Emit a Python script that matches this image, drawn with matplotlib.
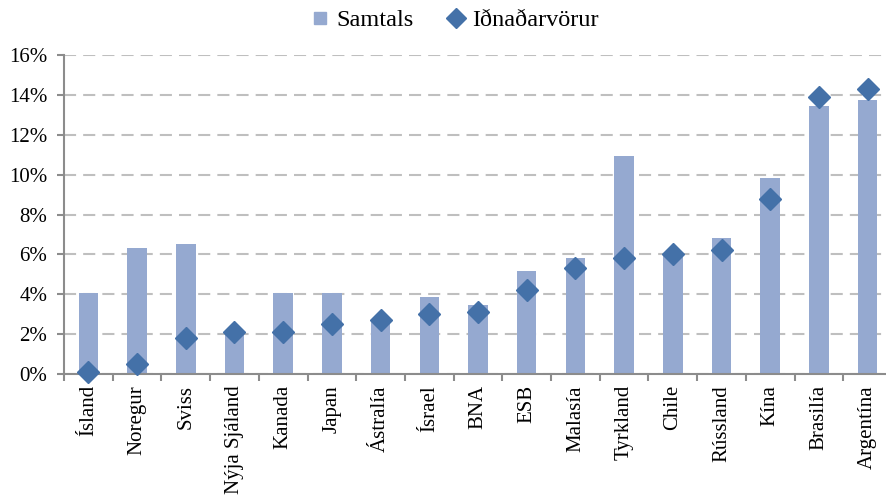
import matplotlib
matplotlib.use("Agg")
import matplotlib.pyplot as plt
from matplotlib.ticker import FuncFormatter
from matplotlib.lines import Line2D
import numpy as np

plt.rcParams['font.family'] = ['Liberation Serif', 'DejaVu Serif']

countries = ["Ísland", "Noregur", "Sviss", "Nýja Sjáland", "Kanada", "Japan",
             "Ástralía", "Ísrael", "BNA", "ESB", "Malasía", "Tyrkland", "Chile",
             "Rússland", "Kína", "Brasilía", "Argentína"]
samtals = [4.05, 6.3, 6.5, 2.05, 4.05, 4.05, 2.6, 3.85, 3.45, 5.15, 5.8, 10.95,
           5.9, 6.8, 9.85, 13.45, 13.75]
idnadarvorur = [0.1, 0.5, 1.8, 2.1, 2.1, 2.5, 2.7, 3.0, 3.1, 4.2, 5.3, 5.8,
                6.0, 6.2, 8.8, 13.9, 14.3]
yticks = [0, 2, 4, 6, 8, 10, 12, 14, 16]

bar_color = "#95A9D0"
dia_color = "#4471A8"
axis_color = "#8C8C8C"

fig = plt.figure(figsize=(8.86, 4.96), dpi=100)
ax = fig.add_axes([64/886, 1 - 374/496, (892 - 64)/886, (374 - 55)/496])

x = np.arange(len(countries))
ax.bar(x, samtals, width=0.4, color=bar_color, zorder=2)
ax.plot(x, idnadarvorur, linestyle="none", marker="D", markersize=11,
        color=dia_color, markeredgecolor=dia_color, zorder=3, clip_on=False)

ax.set_xlim(-0.5, len(countries) - 0.5)
ax.set_ylim(0, 16)
ax.set_yticks(yticks)
ax.yaxis.set_major_formatter(FuncFormatter(lambda v, p: f"{v:.0f}%"))
ax.grid(axis="y", color="#BFBFBF", linestyle=(0, (5.8, 3.4)), linewidth=1.5, zorder=0)
ax.set_axisbelow(True)

ax.set_xticks(x)
ax.set_xticklabels(countries, rotation=90, fontsize=15)
ax.set_xticks(np.arange(-0.5, len(countries), 1), minor=True)
ax.tick_params(axis="x", which="major", length=0, pad=8)
ax.tick_params(axis="x", which="minor", length=5, width=1.5, color=axis_color)
ax.tick_params(axis="y", length=5, width=1.5, color=axis_color, labelsize=15, pad=7)

for s in ["top", "right"]:
    ax.spines[s].set_visible(False)
for s in ["left", "bottom"]:
    ax.spines[s].set_color(axis_color)
    ax.spines[s].set_linewidth(1.5)

handles = [
    Line2D([], [], linestyle="none", marker="s", markersize=8, color=bar_color),
    Line2D([], [], linestyle="none", marker="D", markersize=10, color=dia_color),
]
fig.legend(handles, ["Samtals", "Iðnaðarvörur"], loc="center",
           bbox_to_anchor=(455/886, 1 - 20/496), ncol=2, frameon=False,
           fontsize=17.5, handlelength=0.7, handletextpad=0.3, columnspacing=1.4)

fig.savefig("out.png", dpi=100)
